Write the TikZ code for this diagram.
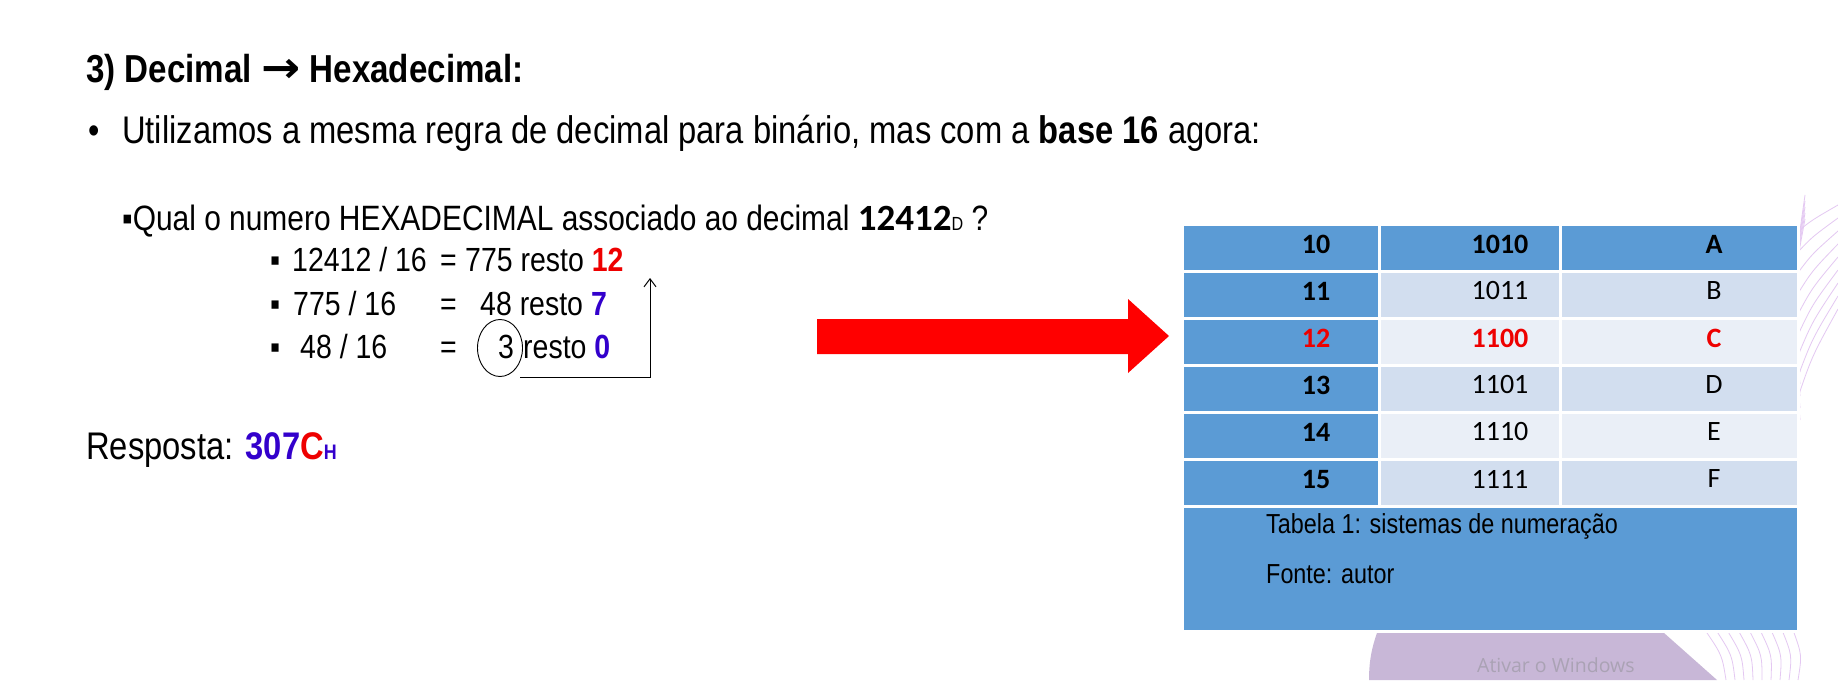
\documentclass[tikz,border=0pt]{standalone}
\usepackage{fontspec}
\setmainfont{Liberation Sans}[FakeStretch=0.85]
\newfontfamily\calfont{Carlito}
\newfontfamily\arrfont{DejaVu Sans}
\newfontfamily\winfont{Open Sans}
\usetikzlibrary{shapes.geometric,arrows.meta}

\definecolor{tabblue}{HTML}{5B9BD5}
\definecolor{tablight}{HTML}{D2DEEF}
\definecolor{tabpale}{HTML}{EAEFF7}
\definecolor{restblue}{HTML}{3300CC}
\definecolor{restred}{HTML}{EE0000}
\definecolor{blobpurple}{HTML}{C8B7D7}
\definecolor{linepurple}{HTML}{E4C8F2}
\definecolor{markgray}{HTML}{AAA2B4}

\tikzset{
  txt/.style={anchor=base west, inner sep=0pt},
  cell/.style={draw=white, line width=2.5pt, fill=#1, anchor=north west,
    minimum height=47pt, inner sep=0pt},
  tabtxt/.style={font=\calfont\fontsize{28}{30}\selectfont, inner sep=0pt},
}

\begin{document}
\begin{tikzpicture}[x=1pt,y=-1pt]
  \useasboundingbox[fill=white] (0,0) rectangle (1838,680);

  % background decoration
  \fill[blobpurple] (1369,680) .. controls (1369,660) and (1372,645) .. (1380,625)
    -- (1655,625) -- (1717,680) -- cycle;
  \foreach \k in {0,...,8}
    \draw[linepurple, line width=0.8pt] (1797,232+\k*21) .. controls (1812,220+\k*17) .. (1838,205+\k*13);
  \foreach \k in {0,...,4}
    \draw[linepurple, line width=0.8pt] (1805,195+\k*6) .. controls (1790,300) .. (1800,420-\k*12);
  \foreach \k in {0,...,8}
    \draw[linepurple, line width=0.8pt] (1705+\k*11,630) .. controls (1722+\k*10,655) .. (1726+\k*9,680);
  \node[txt, font=\winfont\fontsize{19.5}{22}\selectfont, text=markgray] (watermark) at (1477,672) {Ativar o Windows};

  % heading and text
  \node[txt, font=\bfseries\fontsize{39}{41}\selectfont] (title) at (86,82)
    {3) Decimal {\arrfont\bfseries\scalebox{1.2}[1.1]{→}} Hexadecimal:};
  \node[txt, font=\fontsize{38}{40}\selectfont] (dot) at (88,143) {•};
  \node[txt, font=\fontsize{38.5}{40}\selectfont] (rule) at (122,143)
    {Utilizamos a mesma regra de decimal para binário, mas com a \textbf{base 16} agora:};
  \node[txt, font=\fontsize{35.2}{37}\selectfont] (question) at (122,230)
    {▪Qual o numero HEXADECIMAL associado ao decimal {\calfont\bfseries\fontsize{37}{37}\selectfont 12412}{\fontsize{19}{20}\selectfont D} ?};

  % divisions
  \begin{scope}[every node/.append style={font=\fontsize{33.5}{35}\selectfont}]
    \node[txt] (sq1) at (270,271) {▪};
    \node[txt] (div1) at (292,271) {12412 / 16};
    \node[txt] (eq1) at (440,271) {=};
    \node[txt] (quo1) at (465,271) {775 resto {\bfseries\color{restred}12}};
    \node[txt] (sq2) at (270,315) {▪};
    \node[txt] (div2) at (293,315) {775 / 16};
    \node[txt] (eq2) at (440,315) {=};
    \node[txt] (quo2) at (480,315) {48 resto {\bfseries\color{restblue}7}};
    \node[txt] (sq3) at (270,358) {▪};
    \node[txt] (div3) at (300,358) {48 / 16};
    \node[txt] (eq3) at (440,358) {=};
    \node[txt] (quo3) at (498,358) {3};
    \node[txt] (rest3) at (523,358) {resto {\bfseries\color{restblue}0}};
  \end{scope}
  \node[draw, ellipse, line width=0.9pt, minimum width=45, minimum height=57, inner sep=0pt] (ring) at (500,348) {};
  \coordinate (up0) at (520,377);
  \coordinate (up1) at (650,278);
  \draw[line width=1pt, -{Straight Barb[length=8pt,width=12pt]}] (up0) -| (up1);

  \node[txt, font=\fontsize{38.5}{40}\selectfont] (answer) at (86,459)
    {Resposta: {\bfseries\color{restblue}307}{\bfseries\color{restred}C}{\bfseries\color{restblue}\fontsize{21}{21}\selectfont H}};

  % big red arrow
  \fill[red] (817,319) -- (1128,319) -- (1128,299) -- (1169,336) -- (1128,373)
    -- (1128,354) -- (817,354) -- cycle;

  % table
  \foreach \dec/\bin/\hex/\shade/\ink/\wt [count=\i from 0] in
    {10/1010/A/tabblue/black/\bfseries, 11/1011/B/tablight/black/\mdseries,
     12/1100/C/tabpale/restred/\bfseries, 13/1101/D/tablight/black/\mdseries,
     14/1110/E/tabpale/black/\mdseries, 15/1111/F/tablight/black/\mdseries}{
    \node[cell=tabblue, minimum width=197] (d\i) at (1181,223+47*\i) {};
    \node[cell=\shade, minimum width=181] (b\i) at (1378,223+47*\i) {};
    \node[cell=\shade, minimum width=238] (h\i) at (1559,223+47*\i) {};
    \node[tabtxt, text=\ink] (dt\i) at (1316,244+47*\i) {\bfseries\dec};
    \node[tabtxt, text=\ink] (bt\i) at (1500,244+47*\i) {\wt\bin};
    \node[tabtxt, text=\ink] (ht\i) at (1714,244+47*\i) {\wt\hex};
  }
  \node[cell=tabblue, minimum width=616, minimum height=125] (caption) at (1181,505) {};
  \node[txt, font=\fontsize{27.5}{29}\selectfont] (tabela) at (1266,533) {Tabela 1: sistemas de numeração};
  \node[txt, font=\fontsize{27.5}{29}\selectfont] (fonte) at (1266,583) {Fonte: autor};
\end{tikzpicture}
\end{document}
